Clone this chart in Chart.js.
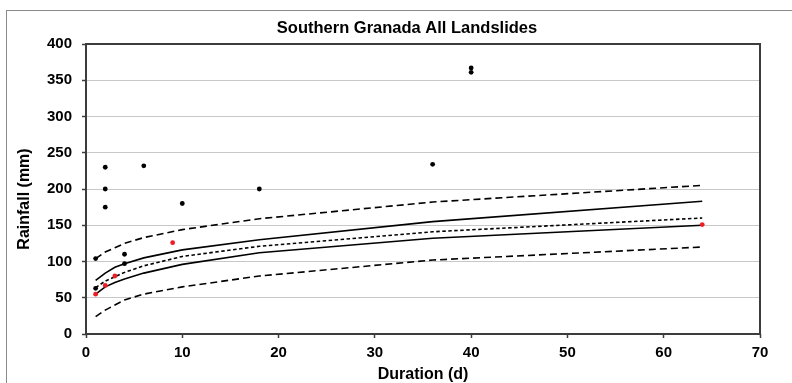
<!DOCTYPE html>
<html>
<head>
<meta charset="utf-8">
<script src="https://cdn.jsdelivr.net/npm/chart.js@4.4.1/dist/chart.umd.min.js"></script>
<style>
    html, body { margin: 0; padding: 0; background: #ffffff; overflow: hidden; }
    #wrap { position: absolute; left: 0; top: 0; width: 814px; height: 383px; }
</style>
</head>
<body>
<div id="wrap">
    <canvas id="rainChart" width="814" height="383"></canvas>
</div>
<script>

// threshold curves at these durations
let curveDays = [1, 2, 3, 4, 6, 10, 18, 36, 64];
let upperDashed = [104, 113, 119, 125, 133, 144, 159, 182, 205];
let upperSolid = [74, 84, 92, 97, 105, 116, 130, 155, 183];
let middleDotted = [64, 73, 79, 85, 94, 107, 121, 141, 160];
let lowerSolid = [55, 65, 71, 76, 84, 96, 112, 132, 150];
let lowerDashed = [24, 33, 40, 47, 55, 65, 80, 102, 120];

// landslide events
let blackDays = [1, 1, 2, 2, 2, 4, 4, 6, 10, 18, 36, 40, 40];
let blackRain = [63, 104, 230, 200, 175, 110, 97, 232, 180, 200, 234, 367, 361];
let redDays = [1, 2, 3, 9, 64];
let redRain = [55, 67, 80, 126, 151];

let xTicks = [0, 10, 20, 30, 40, 50, 60, 70];
let yTicks = [0, 50, 100, 150, 200, 250, 300, 350, 400];

let chartTitle = "Southern Granada All Landslides";

function toPoints(xs, ys)
{
    return xs.map((x, i) => ({ x: x, y: ys[i] }));
}

function curve(values, dash)
{
    return {
        type: "line",
        data: toPoints(curveDays, values),
        borderColor: "#000000",
        borderWidth: 1.6,
        borderDash: dash,
        pointRadius: 0,
        tension: 0,
        fill: false,
        order: 2
    };
}

function dots(xs, ys, color)
{
    return {
        type: "scatter",
        data: toPoints(xs, ys),
        backgroundColor: color,
        borderWidth: 0,
        pointRadius: 2.4,
        order: 1
    };
}

let fontFamily = "'Liberation Sans', Arial, sans-serif";

// outer frame, plot border, chart title and the rotated y title
let framePlugin = {
    id: "frame",
    beforeDraw(chart)
    {
        let ctx = chart.ctx;
        ctx.save();
        ctx.strokeStyle = "#8a8a8a";
        ctx.lineWidth = 1;
        ctx.strokeRect(6.5, 10.5, 801, 400);
        ctx.restore();
    },
    afterDatasetsDraw(chart)
    {
        let a = chart.chartArea;
        let ctx = chart.ctx;
        ctx.save();
        ctx.strokeStyle = "#3c3c3c";
        ctx.lineWidth = 2;
        ctx.strokeRect(a.left, a.top, a.right - a.left, a.bottom - a.top);
        ctx.restore();
    },
    afterDraw(chart)
    {
        let a = chart.chartArea;
        let ctx = chart.ctx;
        ctx.save();
        ctx.fillStyle = "#000000";
        ctx.textAlign = "center";
        ctx.textBaseline = "middle";

        // title is centred on the outer frame, not on the plot
        ctx.font = "bold 16.5px " + fontFamily;
        ctx.fillText(chartTitle, 407, 28);

        ctx.translate(a.left - 61, (a.top + a.bottom) / 2 + 10);
        ctx.rotate(-Math.PI / 2);
        ctx.font = "bold 16px " + fontFamily;
        ctx.fillText("Rainfall (mm)", 0, 0);
        ctx.restore();
    }
};

let tickFont = {
    family: fontFamily,
    size: 15,
    weight: "bold"
};

new Chart(
    document.getElementById("rainChart"),
    {
        data: {
            datasets: [
                curve(upperDashed, [7, 4]),
                curve(upperSolid, []),
                curve(middleDotted, [3.5, 2.5]),
                curve(lowerSolid, []),
                curve(lowerDashed, [7, 4]),
                dots(blackDays, blackRain, "#000000"),
                dots(redDays, redRain, "#ee1c25")
            ]
        },
        options: {
            responsive: false,
            animation: false,
            devicePixelRatio: 1,
            layout: {
                padding: { left: 0, right: 54, top: 44, bottom: 0 }
            },
            plugins: {
                legend: { display: false },
                tooltip: { enabled: false },
                title: { display: false }
            },
            scales: {
                x: {
                    type: "linear",
                    min: 0,
                    max: 70,
                    afterBuildTicks: s => { s.ticks = xTicks.map(v => ({ value: v })); },
                    afterFit: s => { s.height = 49; },
                    border: { display: false },
                    grid: {
                        drawOnChartArea: false,
                        tickLength: 4,
                        tickColor: "#3c3c3c",
                        tickWidth: 1.5
                    },
                    ticks: {
                        color: "#000000",
                        font: tickFont,
                        padding: 6,
                        maxRotation: 0
                    },
                    title: {
                        display: true,
                        text: "Duration (d)",
                        color: "#000000",
                        font: { family: fontFamily, size: 16, weight: "bold", lineHeight: 1 },
                        padding: 0
                    }
                },
                y: {
                    type: "linear",
                    min: 0,
                    max: 400,
                    afterBuildTicks: s => { s.ticks = yTicks.map(v => ({ value: v })); },
                    afterFit: s => { s.width = 86; },
                    border: { display: false },
                    grid: {
                        color: "#c8c8c8",
                        lineWidth: 1,
                        tickLength: 4,
                        tickColor: "#3c3c3c",
                        tickWidth: 1.5
                    },
                    ticks: {
                        color: "#000000",
                        font: tickFont,
                        padding: 10
                    }
                }
            }
        },
        plugins: [framePlugin]
    }
);
</script>
</body>
</html>
